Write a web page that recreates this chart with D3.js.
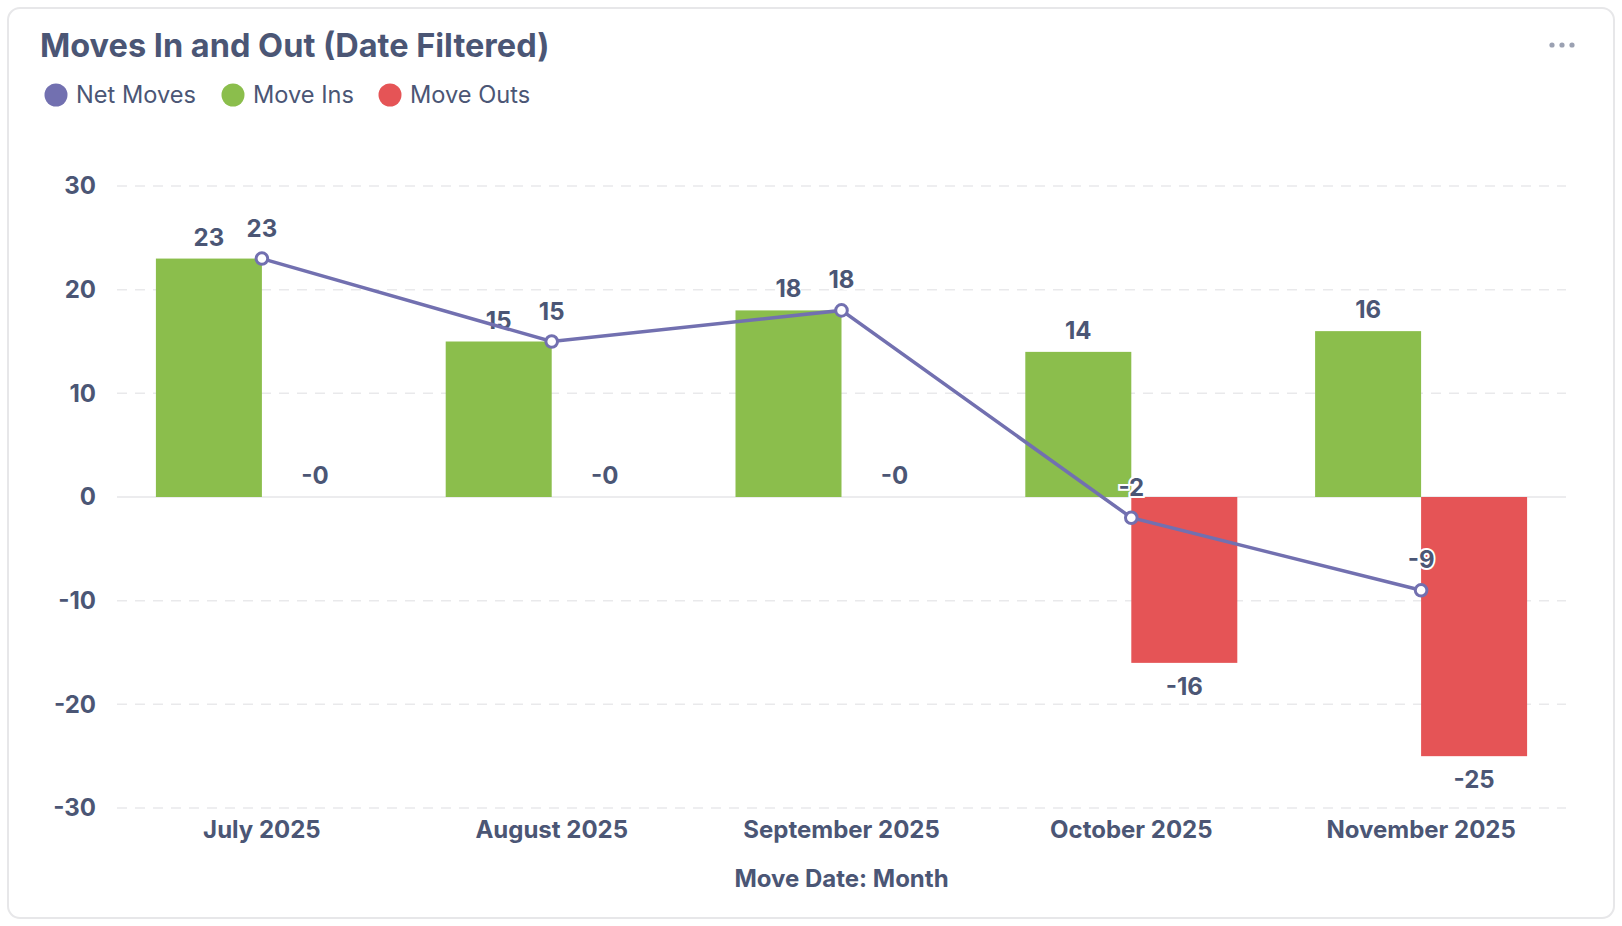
<!DOCTYPE html>
<html>
<head>
<meta charset="utf-8">
<script src="https://cdn.jsdelivr.net/npm/d3@7"></script>
<style>
  body { margin: 0; background: #fff; font-family: Inter, "Noto Sans", sans-serif; }
</style>
</head>
<body>
<div id="visualization"></div>
<script>
let w = 1622;
let h = 926;

// data
let months = ["July 2025", "August 2025", "September 2025", "October 2025", "November 2025"];
let moveIns = [23, 15, 18, 14, 16];
let moveOuts = [-0, -0, -0, -16, -25];
let netMoves = [23, 15, 18, -2, -9];
let yTicks = [30, 20, 10, 0, -10, -20, -30];
let seriesNames = ["Net Moves", "Move Ins", "Move Outs"];

let textColor = "#4b5675";
let purple = "#7270b0";
let green = "#8bbe4c";
let red = "#e55456";
let labelSize = 24;

function fmt(v){
  if (v < 0 || Object.is(v, -0)) return "-" + Math.abs(v);
  return "" + v;
}

let viz = d3.select("#visualization")
    .append("svg")
  .attr("width", w)
  .attr("height", h)
  .style("display", "block")
;

// card
viz.append("rect")
  .attr("x", 8).attr("y", 8)
  .attr("width", 1606).attr("height", 910)
  .attr("rx", 12)
  .attr("fill", "#fff")
  .attr("stroke", "#e7e7e9")
  .attr("stroke-width", 2)
;

viz.append("text")
  .attr("x", 40).attr("y", 57)
  .attr("fill", textColor)
  .attr("font-size", 32.5)
  .attr("font-weight", 700)
  .text("Moves In and Out (Date Filtered)")
;

// the three dots menu
viz.selectAll(".dots").data([0, 1, 2]).enter()
  .append("circle")
  .attr("class", "dots")
  .attr("cx", d => 1552 + d * 10)
  .attr("cy", 45)
  .attr("r", 2.6)
  .attr("fill", "#9ba1b2")
;

// legend
let legendX = [56, 233, 390];
let legendColors = [purple, green, red];
let legend = viz.selectAll(".legend").data(seriesNames).enter()
  .append("g")
  .attr("class", "legend")
  .attr("transform", (d, i) => "translate(" + legendX[i] + ",95)")
;
legend.append("circle").attr("r", 11.5).attr("fill", (d, i) => legendColors[i]);
legend.append("text")
  .attr("x", 20).attr("y", 8)
  .attr("font-size", 23.6)
  .attr("fill", textColor)
  .text(d => d)
;

// scales
let xScale = d3.scaleBand().domain(months).range([117, 1566]);
let yScale = d3.scaleLinear().domain([-30, 30]).range([808, 186]);
let barW = 106;

// grid
viz.selectAll(".grid").data(yTicks).enter()
  .append("line")
  .attr("class", "grid")
  .attr("x1", 117).attr("x2", 1566)
  .attr("y1", d => yScale(d)).attr("y2", d => yScale(d))
  .attr("stroke", d => d === 0 ? "#e6e6e8" : "#e9e9eb")
  .attr("stroke-width", 1.5)
  .attr("stroke-dasharray", d => d === 0 ? null : "10,8")
;

// y axis labels
let yAxis = d3.axisLeft(yScale).tickValues(yTicks).tickFormat(fmt).tickSize(0).tickPadding(0);
let yAxisGroup = viz.append("g").attr("transform", "translate(96,0)").call(yAxis);
yAxisGroup.select(".domain").remove();
yAxisGroup.selectAll("text")
  .attr("font-family", "Inter, sans-serif")
  .attr("font-size", labelSize)
  .attr("font-weight", 700)
  .attr("fill", textColor)
;

// x axis labels
let xAxis = d3.axisBottom(xScale).tickSize(0).tickPadding(0);
let xAxisGroup = viz.append("g").attr("transform", "translate(0,821)").call(xAxis);
xAxisGroup.select(".domain").remove();
xAxisGroup.selectAll("text")
  .attr("font-family", "Inter, sans-serif")
  .attr("font-size", labelSize)
  .attr("font-weight", 700)
  .attr("fill", textColor)
;

viz.append("text")
  .attr("x", xScale(months[2]) + xScale.bandwidth() / 2)
  .attr("y", 887)
  .attr("text-anchor", "middle")
  .attr("font-size", labelSize)
  .attr("font-weight", 700)
  .attr("fill", textColor)
  .text("Move Date: Month")
;

let center = d => xScale(d) + xScale.bandwidth() / 2;

// move ins bars
viz.selectAll(".insbar").data(moveIns).enter()
  .append("rect")
  .attr("class", "insbar")
  .attr("x", (d, i) => center(months[i]) - barW)
  .attr("y", d => yScale(d))
  .attr("width", barW)
  .attr("height", d => yScale(0) - yScale(d))
  .attr("fill", green)
;

// move outs bars
viz.selectAll(".outsbar").data(moveOuts).enter()
  .append("rect")
  .attr("class", "outsbar")
  .attr("x", (d, i) => center(months[i]))
  .attr("y", yScale(0))
  .attr("width", barW)
  .attr("height", d => yScale(d) - yScale(0))
  .attr("fill", red)
;

// bar labels
viz.selectAll(".inslabel").data(moveIns).enter()
  .append("text")
  .attr("class", "inslabel")
  .attr("x", (d, i) => center(months[i]) - barW / 2)
  .attr("y", d => yScale(d) - 13)
  .attr("text-anchor", "middle")
  .attr("font-size", labelSize)
  .attr("font-weight", 700)
  .attr("fill", textColor)
  .text(fmt)
;

viz.selectAll(".outslabel").data(moveOuts).enter()
  .append("text")
  .attr("class", "outslabel")
  .attr("x", (d, i) => center(months[i]) + barW / 2)
  .attr("y", d => d === 0 ? yScale(0) - 13 : yScale(d) + 32)
  .attr("text-anchor", "middle")
  .attr("font-size", labelSize)
  .attr("font-weight", 700)
  .attr("fill", textColor)
  .text(fmt)
;

// net moves line
let line = d3.line()
  .x((d, i) => center(months[i]))
  .y(d => yScale(d))
;
viz.append("path")
  .datum(netMoves)
  .attr("d", line)
  .attr("fill", "none")
  .attr("stroke", purple)
  .attr("stroke-width", 3.5)
;

viz.selectAll(".netpoint").data(netMoves).enter()
  .append("circle")
  .attr("class", "netpoint")
  .attr("cx", (d, i) => center(months[i]))
  .attr("cy", d => yScale(d))
  .attr("r", 5.8)
  .attr("fill", "#fff")
  .attr("stroke", purple)
  .attr("stroke-width", 3)
;

viz.selectAll(".netlabel").data(netMoves).enter()
  .append("text")
  .attr("class", "netlabel")
  .attr("x", (d, i) => center(months[i]))
  .attr("y", d => yScale(d) - 22)
  .attr("text-anchor", "middle")
  .attr("font-size", labelSize)
  .attr("font-weight", 700)
  .attr("fill", textColor)
  .attr("stroke", "#fff")
  .attr("stroke-width", 4)
  .attr("paint-order", "stroke")
  .text(fmt)
;
</script>
</body>
</html>
